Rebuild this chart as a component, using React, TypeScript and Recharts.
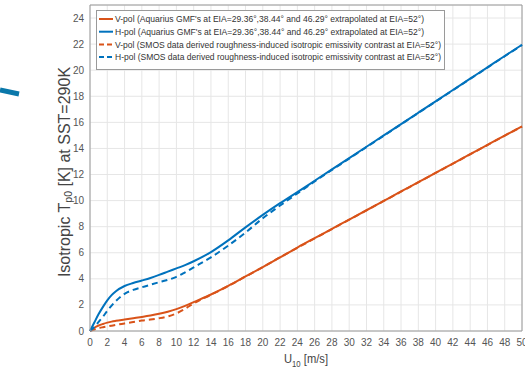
import React from "react";
import { LineChart, Line, XAxis, YAxis, CartesianGrid, Legend, ReferenceLine } from "recharts";

const windSpeed = [0, 0.5, 1, 1.5, 2, 2.5, 3, 4, 5, 6, 7, 8, 9, 10, 11, 12, 14, 16, 18, 20, 22, 24, 26, 28, 30, 32, 34, 36, 38, 40, 42, 44, 46, 48, 50];
const vpolGmf = [0, 0.25, 0.42, 0.54, 0.64, 0.72, 0.78, 0.88, 0.98, 1.08, 1.19, 1.32, 1.48, 1.68, 1.93, 2.22, 2.8, 3.46, 4.18, 4.9, 5.65, 6.4, 7.12, 7.83, 8.55, 9.26, 9.98, 10.7, 11.41, 12.13, 12.84, 13.56, 14.27, 14.99, 15.7];
const hpolGmf = [0, 0.65, 1.3, 1.85, 2.35, 2.75, 3.05, 3.45, 3.68, 3.87, 4.07, 4.3, 4.55, 4.8, 5.05, 5.35, 6.05, 6.95, 7.95, 8.9, 9.8, 10.65, 11.52, 12.39, 13.26, 14.13, 15.0, 15.87, 16.74, 17.61, 18.48, 19.35, 20.22, 21.09, 21.95];
const vpolSmos = [0, 0.12, 0.22, 0.29, 0.35, 0.41, 0.47, 0.58, 0.69, 0.8, 0.88, 0.98, 1.12, 1.35, 1.7, 2.12, 2.78, 3.45, 4.17, 4.9, 5.65, 6.38, 7.1, 7.82, 8.54, 9.25, 9.97, 10.68, 11.4, 12.12, 12.83, 13.55, 14.26, 14.98, 15.68];
const hpolSmos = [0, 0.3, 0.7, 1.1, 1.55, 1.95, 2.3, 2.85, 3.15, 3.35, 3.55, 3.74, 3.92, 4.15, 4.5, 4.88, 5.65, 6.55, 7.55, 8.65, 9.62, 10.55, 11.47, 12.35, 13.22, 14.1, 14.97, 15.85, 16.72, 17.59, 18.46, 19.33, 20.2, 21.07, 21.93];

const xTicks = [0, 2, 4, 6, 8, 10, 12, 14, 16, 18, 20, 22, 24, 26, 28, 30, 32, 34, 36, 38, 40, 42, 44, 46, 48, 50];
const yTicks = [0, 2, 4, 6, 8, 10, 12, 14, 16, 18, 20, 22, 24];

const ORANGE = "#D95319";
const BLUE = "#0072BD";

const series = [
  { key: "vGmf", values: vpolGmf, color: ORANGE, dashed: false, name: "V-pol (Aquarius GMF's at EIA=29.36°,38.44° and 46.29° extrapolated at EIA=52°)", textLen: 309 },
  { key: "hGmf", values: hpolGmf, color: BLUE, dashed: false, name: "H-pol (Aquarius GMF's at EIA=29.36°,38.44° and 46.29° extrapolated at EIA=52°)", textLen: 309 },
  { key: "vSmos", values: vpolSmos, color: ORANGE, dashed: true, name: "V-pol (SMOS data derived roughness-induced isotropic emissivity contrast at EIA=52°)", textLen: 326 },
  { key: "hSmos", values: hpolSmos, color: BLUE, dashed: true, name: "H-pol (SMOS data derived roughness-induced isotropic emissivity contrast at EIA=52°)", textLen: 326 },
];

const data = windSpeed.map((u, i) => {
  const row: Record<string, number> = { u };
  series.forEach((s) => (row[s.key] = s.values[i]));
  return row;
});

const FONT = "'Liberation Sans', Arial, sans-serif";

const renderLegend = () => (
  <svg width={420} height={61} style={{ display: "block", overflow: "visible" }}>
    <rect x={0.5} y={0.5} width={348} height={59} fill="#fff" stroke="#9a9a9a" strokeWidth={1} />
    {series.map((s, i) => {
      const y = 9 + i * 12.7;
      return (
        <g key={s.key}>
          <line x1={3} x2={17} y1={y} y2={y} stroke={s.color} strokeWidth={2} strokeDasharray={s.dashed ? "5 3" : undefined} />
          <text x={19} y={y} dy="0.35em" fontSize={9.5} fill="#333" fontFamily={FONT} textLength={s.textLen} lengthAdjust="spacingAndGlyphs">
            {s.name}
          </text>
        </g>
      );
    })}
  </svg>
);

const YLabel = (props: any) => {
  const vb = props.viewBox || {};
  const cx = vb.x + vb.width - 26;
  const cy = vb.y + vb.height / 2 + 4;
  return (
    <text x={cx} y={cy} transform={`rotate(-90, ${cx}, ${cy})`} textAnchor="middle" fontSize={16} fill="#444" fontFamily={FONT} dy="0.35em">
      Isotropic T<tspan fontSize={10.5} dy={2.5}>p0</tspan>
      <tspan dy={-2.5}> [K] at SST=290K</tspan>
    </text>
  );
};

const XLabel = (props: any) => {
  const vb = props.viewBox || {};
  const cx = vb.x + vb.width / 2;
  const cy = vb.y + 32;
  return (
    <text x={cx} y={cy} textAnchor="middle" fontSize={13} fill="#444" fontFamily={FONT} textLength={44} lengthAdjust="spacingAndGlyphs">
      U<tspan fontSize={9} dy={4}>10</tspan>
      <tspan dy={-4}> [m/s]</tspan>
    </text>
  );
};

export default function App() {
  return (
    <div style={{ position: "absolute", left: 0, top: 0, width: 525, height: 368, background: "#fff" }}>
      <svg width={30} height={110} style={{ position: "absolute", left: 0, top: 0 }}>
        <line x1={0} y1={90} x2={19} y2={94} stroke="#0a78aa" strokeWidth={5} />
      </svg>
      <LineChart width={525} height={368} data={data} margin={{ top: 5, right: 3, bottom: 0, left: 0 }}>
        <CartesianGrid stroke="#e6e6e6" strokeWidth={1} />
        <XAxis
          dataKey="u"
          type="number"
          domain={[0, 50]}
          ticks={xTicks}
          interval={0}
          height={37}
          tickSize={0}
          tickMargin={8}
          tickLine={false}
          axisLine={{ stroke: "#9a9a9a" }}
          tick={{ fontSize: 10, fill: "#555", fontFamily: FONT }}
          label={{ content: XLabel }}
        />
        <YAxis
          type="number"
          domain={[0, 25]}
          ticks={yTicks}
          interval={0}
          width={90}
          tickSize={0}
          tickMargin={6}
          tickLine={false}
          axisLine={{ stroke: "#9a9a9a" }}
          tick={{ fontSize: 10, fill: "#555", fontFamily: FONT }}
          label={{ content: YLabel }}
        />
        <ReferenceLine y={25} stroke="#9a9a9a" />
        <ReferenceLine x={50} stroke="#9a9a9a" />
        {series.map((s) => (
          <Line
            key={s.key}
            dataKey={s.key}
            name={s.name}
            type="monotone"
            stroke={s.color}
            strokeWidth={2}
            strokeDasharray={s.dashed ? "6 4" : undefined}
            dot={false}
            activeDot={false}
            isAnimationActive={false}
          />
        ))}
        <Legend
          layout="vertical"
          align="center"
          verticalAlign="middle"
          content={renderLegend}
          wrapperStyle={{ left: 96, top: 10, width: 350, height: 61 }}
        />
      </LineChart>
    </div>
  );
}
